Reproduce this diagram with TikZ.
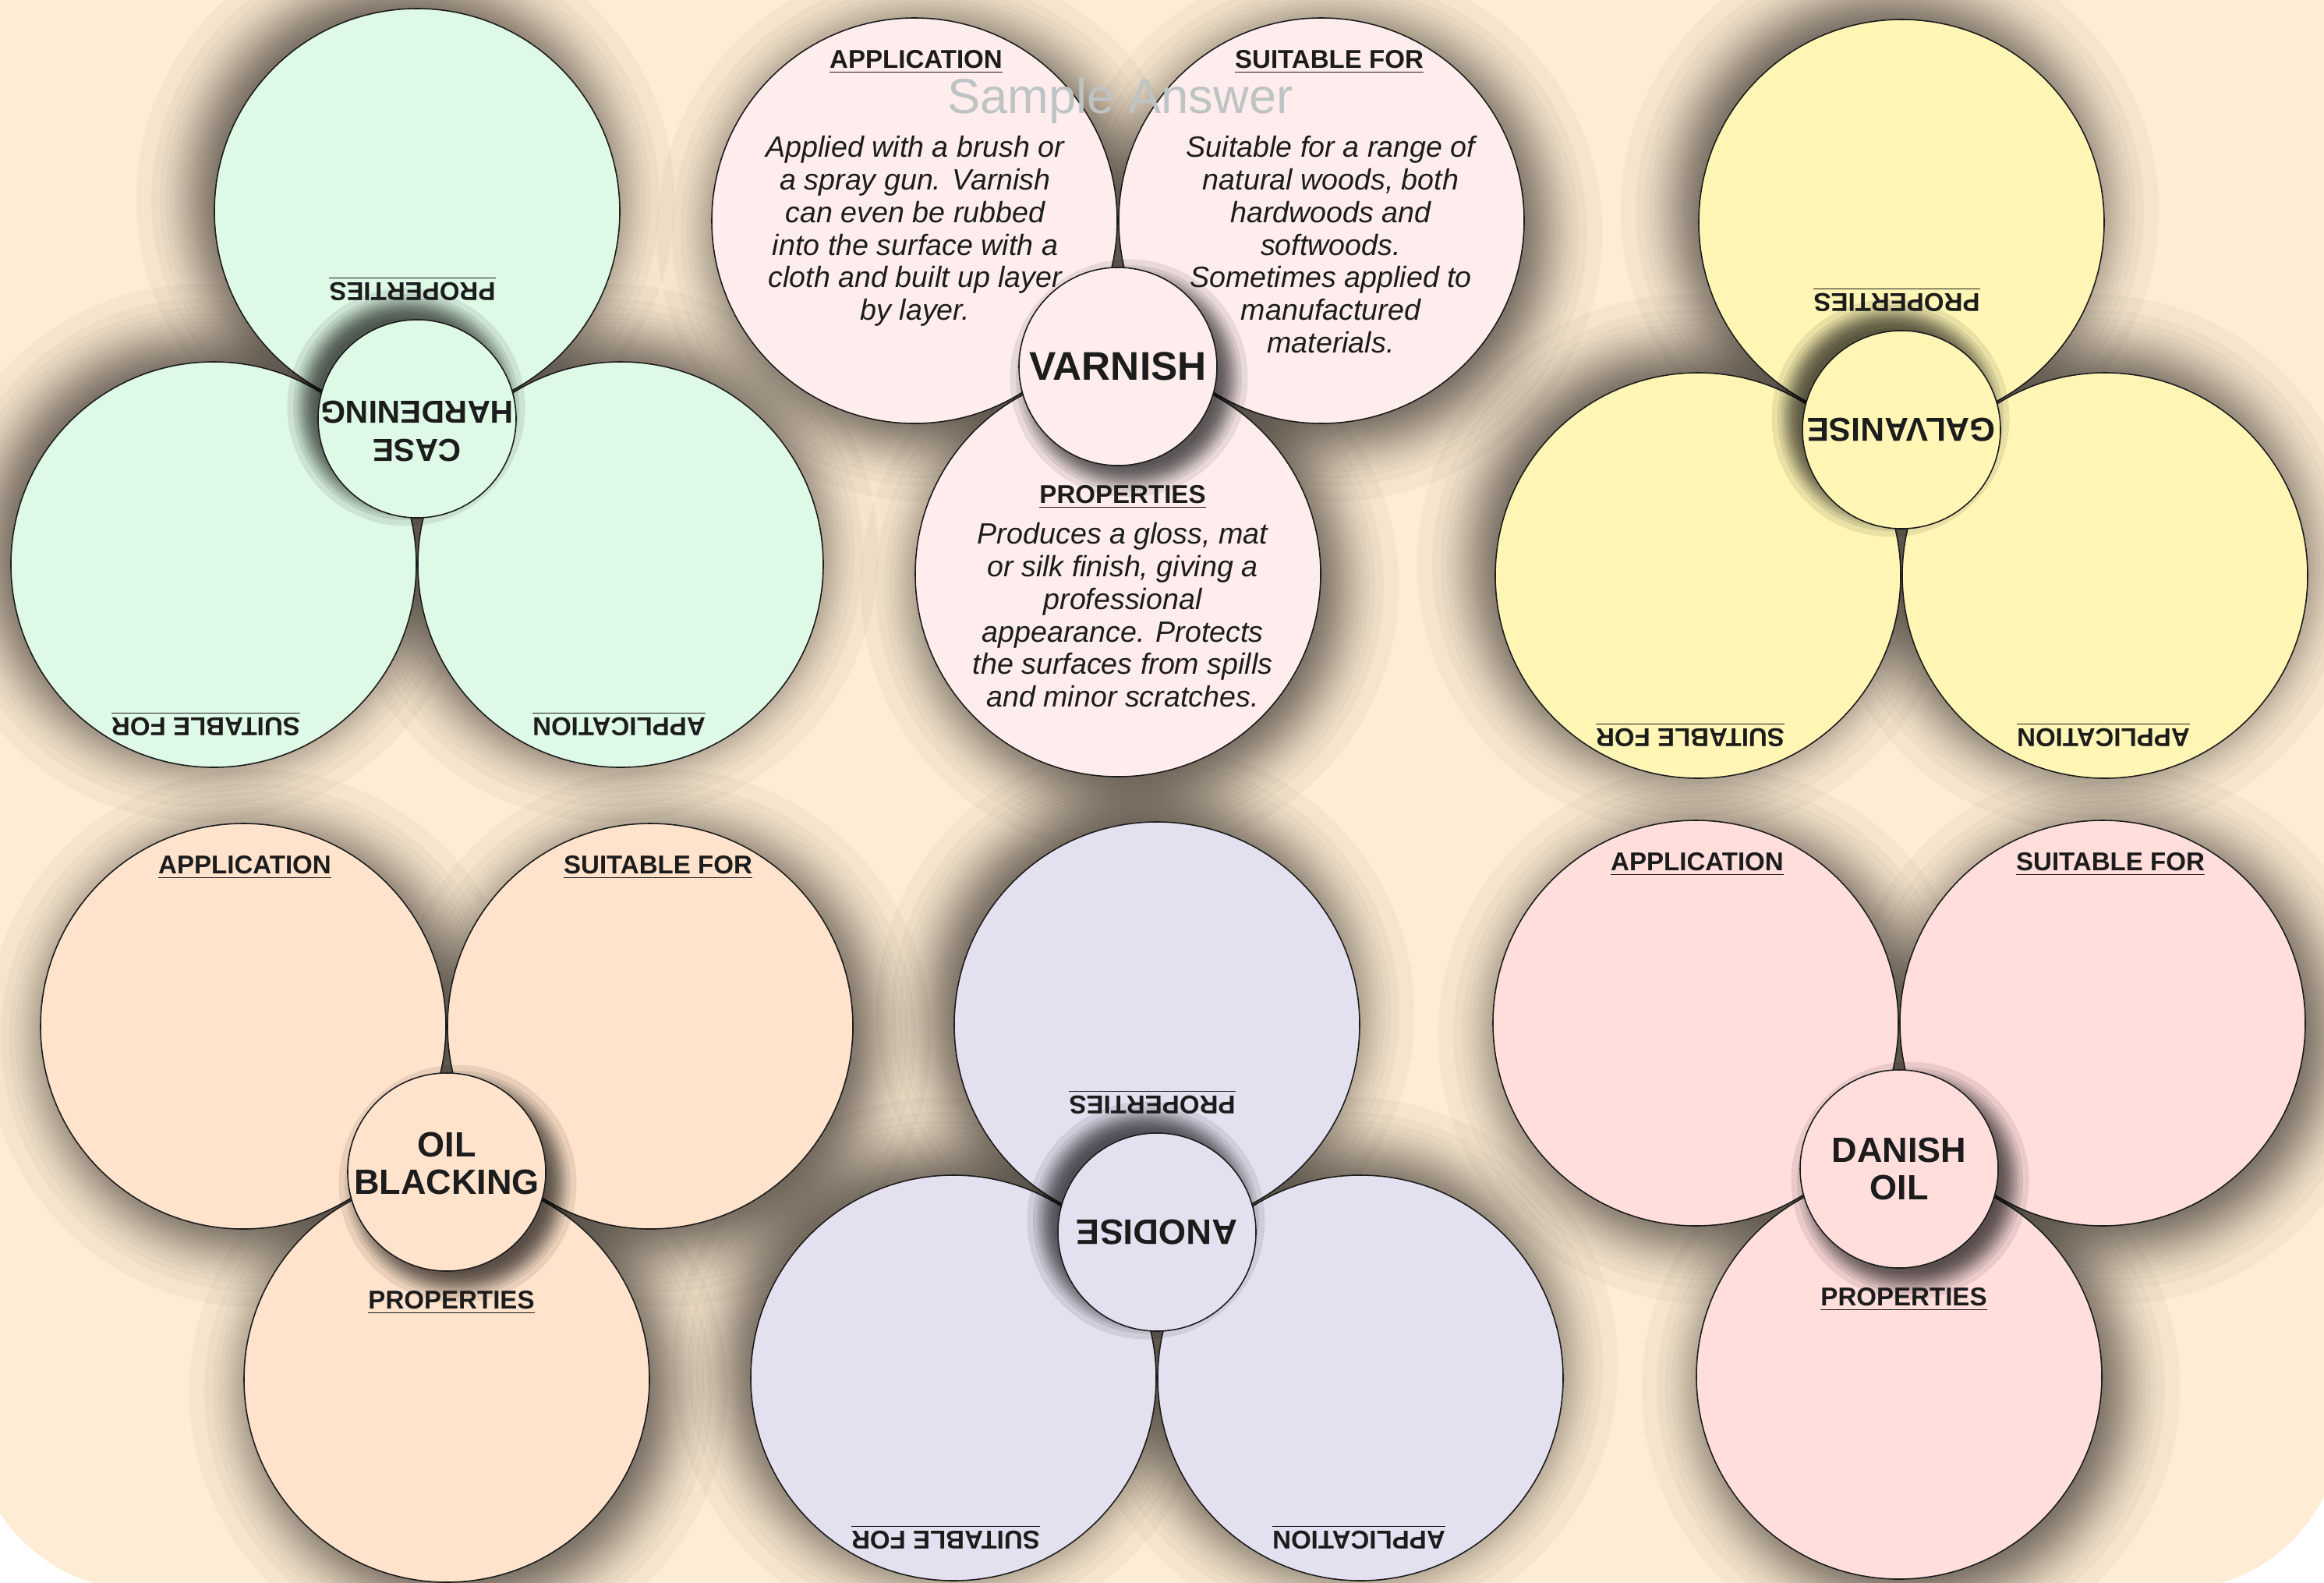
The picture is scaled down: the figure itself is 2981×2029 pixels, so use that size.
\documentclass[tikz,border=0pt]{standalone}
\usepackage{fontspec}
\setmainfont{Liberation Sans}

\definecolor{paper}{RGB}{254,237,212}
\definecolor{ink}{RGB}{28,28,28}
\definecolor{mint}{RGB}{222,249,230}
\definecolor{blush}{RGB}{255,237,237}
\definecolor{lemon}{RGB}{255,246,181}
\definecolor{peach}{RGB}{255,227,204}
\definecolor{lilac}{RGB}{227,225,240}
\definecolor{rose}{RGB}{255,222,220}
\definecolor{stamp}{RGB}{190,195,196}

\pgfdeclarelayer{back}
\pgfdeclarelayer{shade}
\pgfsetlayers{back,shade,main}

\begin{document}
\begin{tikzpicture}[x=0.01cm, y=-0.01cm,
  petal/.style={draw=ink, line width=0.45pt},
  petalshade/.style={fill=black, opacity=0.032},
  hubshade/.style={fill=black, opacity=0.085},
  head/.style={font=\fontsize{9.4}{11}\selectfont\bfseries, text=ink, anchor=base, inner sep=0pt, transform shape},
  blurb/.style={font=\fontsize{10.7}{11.86}\selectfont\itshape, text=ink, align=center, anchor=north, inner sep=0pt},
  hubtext/.style={text=ink, align=center, inner sep=0pt, transform shape}]
\useasboundingbox (0,0) rectangle (2981,2029);
\begin{pgfonlayer}{back}
  \fill[white] (0,0) rectangle (2981,2029);
  \fill[paper, rounded corners=2.17cm] (-35,-300) rectangle (3004,2039);
\end{pgfonlayer}
\foreach \cx/\cy/\ang/\col/\fs/\dy/\name [count=\i] in {
    535/537/180/mint/11.6/-16/{CASE\\HARDENING},
    1434/470/0/blush/14.6/0/VARNISH,
    2439/551/180/lemon/12.1/0/GALVANISE,
    573/1503/0/peach/12.8/-11/{OIL\\BLACKING},
    1484/1580/180/lilac/12.9/0/ANODISE,
    2436/1499/0/rose/12.8/0/{DANISH\\OIL}}
{\begin{scope}[shift={(\cx,\cy)}, rotate=\ang]
  \begin{pgfonlayer}{shade}
    \foreach \px/\py in {-261/-187, 261/-187, 0/266}
      \foreach \d in {85.2,65.8,55.3,47.6,41.4,36.1,31.3,26.9,22.9,19.1,15.4,11.9,8.4,5.1,1.7}
        {\fill[petalshade] (\px+15,\py+15) circle (260+\d);
         \fill[petalshade] (\px+15,\py+15) circle (260-\d);}
  \end{pgfonlayer}
  \foreach \px/\py in {-261/-187, 261/-187, 0/266}
    \draw[petal, fill=\col] (\px,\py) circle (260);
  \foreach \d in {22.5,15,10.5,7.2,4.1,1.3}
    {\fill[hubshade] (14,15) circle (130+\d);
     \fill[hubshade] (14,15) circle (130-\d);}
  \draw[petal, fill=\col] (0,0) circle (127);
  \node[hubtext, font=\fontsize{\fs}{13.8}\selectfont\bfseries] (hub\i) at (0,\dy) {\name};
  \node[head] (app\i) at (-259,-383) {\underline{APPLICATION}};
  \node[head] (suit\i) at (271,-383) {\underline{SUITABLE FOR}};
  \node[head] (prop\i) at (6,175) {\underline{PROPERTIES}};
\end{scope}}
\begin{scope}[shift={(1434,470)}]
  \node[blurb] (appnote) at (-260,-296) {Applied with a brush or\\a spray gun. Varnish\\can even be rubbed\\into the surface with a\\cloth and built up layer\\by layer.};
  \node[blurb] (suitnote) at (273,-296) {Suitable for a range of\\natural woods, both\\hardwoods and\\softwoods.\\Sometimes applied to\\manufactured\\materials.};
  \node[blurb] (propnote) at (6,200) {Produces a gloss, mat\\or silk finish, giving a\\professional\\appearance. Protects\\the surfaces from spills\\and minor scratches.};
\end{scope}
\node[font=\fontsize{18}{20}\selectfont, text=stamp, anchor=base, inner sep=0pt] (stamp) at (1437,145) {Sample Answer};
\end{tikzpicture}
\end{document}
